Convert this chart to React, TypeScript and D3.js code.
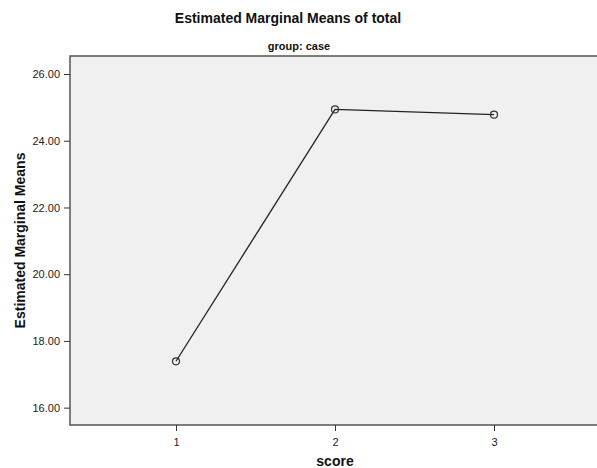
import { useEffect, useRef } from 'react';
import * as d3 from 'd3';

const scores = [1, 2, 3];
const means = [17.39, 24.94, 24.78];
const yTicks = [16, 18, 20, 22, 24, 26];

export default function App() {
  const svgRef = useRef<SVGSVGElement>(null);

  useEffect(() => {
    if (!svgRef.current) return;
    d3.select(svgRef.current).selectAll('*').remove();

    const W = 597;
    const H = 468;
    const margin = { top: 56, right: -3, bottom: 43, left: 70 };
    const width = W - margin.left - margin.right;
    const height = H - margin.top - margin.bottom;
    const font = 'Liberation Sans, Arial, sans-serif';

    const svg = d3.select(svgRef.current).attr('width', W).attr('height', H);

    // titles
    svg
      .append('text')
      .attr('x', 288)
      .attr('y', 23)
      .attr('text-anchor', 'middle')
      .attr('font-family', font)
      .attr('font-weight', 'bold')
      .attr('font-size', 14)
      .attr('fill', '#111')
      .text('Estimated Marginal Means of total');

    svg
      .append('text')
      .attr('x', 299)
      .attr('y', 50)
      .attr('text-anchor', 'middle')
      .attr('font-family', font)
      .attr('font-weight', 'bold')
      .attr('font-size', 11)
      .attr('fill', '#111')
      .text('group: case');

    const g = svg.append('g').attr('transform', `translate(${margin.left},${margin.top})`);

    const xScale = d3
      .scaleLinear()
      .domain([1 / 3, 11 / 3])
      .range([0, width]);

    const yScale = d3.scaleLinear().domain([15.48, 26.54]).range([height, 0]);

    // plot background
    g.append('rect')
      .attr('width', width)
      .attr('height', height)
      .attr('fill', '#f0f0f0')
      .attr('stroke', '#555')
      .attr('stroke-width', 1.5);

    // Y axis
    const yAxis = g
      .append('g')
      .call(
        d3
          .axisLeft(yScale)
          .tickValues(yTicks)
          .tickSize(6)
          .tickFormat((d) => (d as number).toFixed(2))
      );
    yAxis.select('.domain').remove();
    yAxis.selectAll('line').attr('stroke', '#333');
    yAxis
      .selectAll('text')
      .attr('font-family', font)
      .attr('font-size', 11)
      .attr('fill', '#222')
      .attr('dx', '-1');

    // X axis
    const xAxis = g
      .append('g')
      .attr('transform', `translate(0,${height})`)
      .call(d3.axisBottom(xScale).tickValues(scores).tickSize(6).tickFormat(d3.format('d')));
    xAxis.select('.domain').remove();
    xAxis.selectAll('line').attr('stroke', '#333');
    xAxis
      .selectAll('text')
      .attr('font-family', font)
      .attr('font-size', 11)
      .attr('fill', '#222')
      .attr('dy', '1.1em');

    // axis titles
    svg
      .append('text')
      .attr('transform', `translate(25,${margin.top + height / 2}) rotate(-90)`)
      .attr('text-anchor', 'middle')
      .attr('font-family', font)
      .attr('font-weight', 'bold')
      .attr('font-size', 14)
      .attr('fill', '#111')
      .text('Estimated Marginal Means');

    svg
      .append('text')
      .attr('x', margin.left + xScale(2))
      .attr('y', 466)
      .attr('text-anchor', 'middle')
      .attr('font-family', font)
      .attr('font-weight', 'bold')
      .attr('font-size', 14)
      .attr('fill', '#111')
      .text('score');

    // line and markers
    const pts = scores.map((s, i) => [s, means[i]] as [number, number]);
    const line = d3
      .line<[number, number]>()
      .x((d) => xScale(d[0]))
      .y((d) => yScale(d[1]));

    g.append('path')
      .datum(pts)
      .attr('fill', 'none')
      .attr('stroke', '#222')
      .attr('stroke-width', 1.3)
      .attr('d', line);

    g.selectAll('circle.pt')
      .data(pts)
      .enter()
      .append('circle')
      .attr('class', 'pt')
      .attr('cx', (d) => xScale(d[0]))
      .attr('cy', (d) => yScale(d[1]))
      .attr('r', 3.5)
      .attr('fill', 'none')
      .attr('stroke', '#333')
      .attr('stroke-width', 1.2);
  }, []);

  return (
    <div style={{ position: 'absolute', left: 0, top: 0 }}>
      <svg ref={svgRef} style={{ display: 'block', background: '#fff' }}></svg>
    </div>
  );
}
